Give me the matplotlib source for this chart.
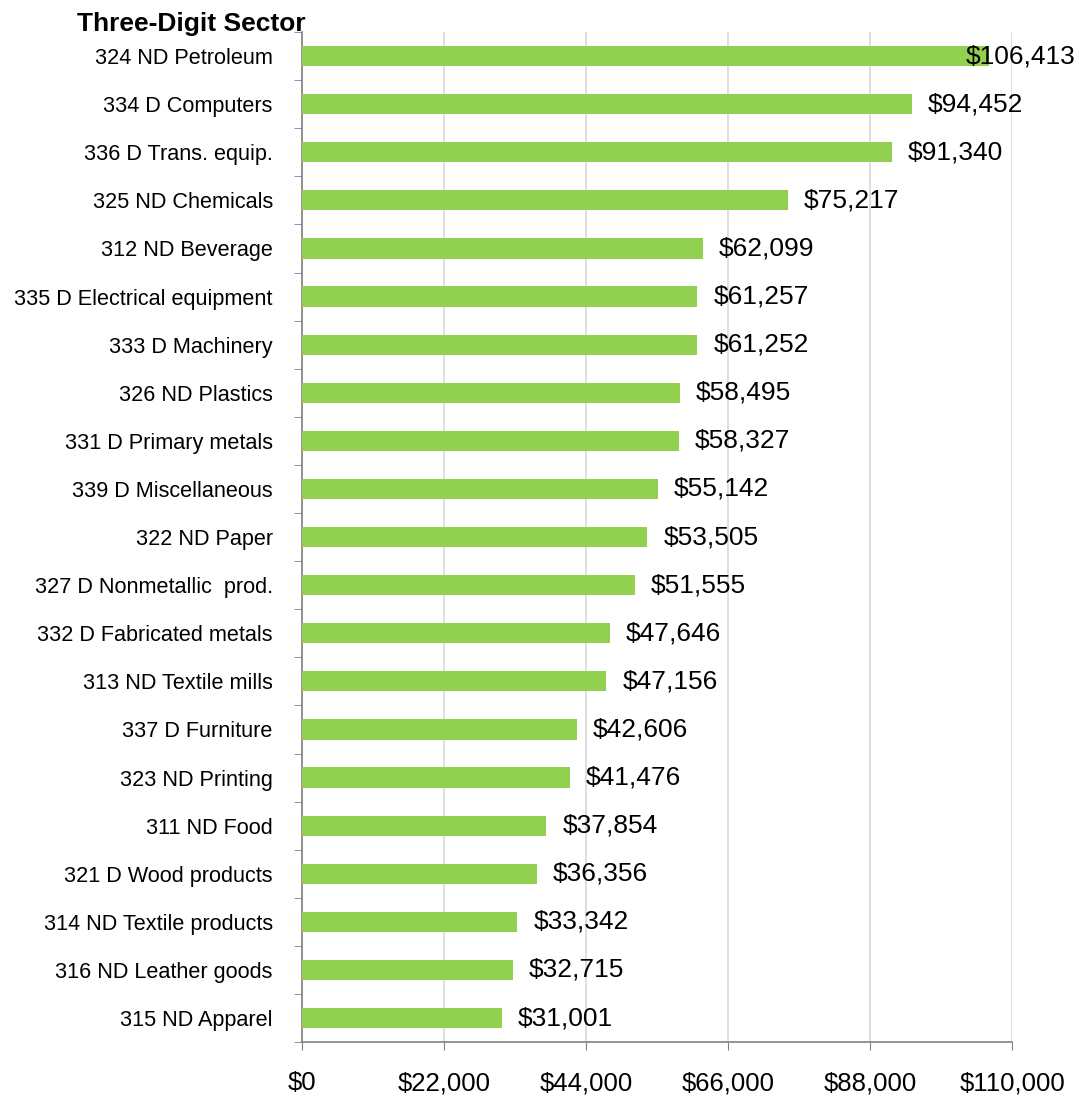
import matplotlib
matplotlib.use("Agg")
import matplotlib.pyplot as plt
from matplotlib.ticker import FixedLocator, FuncFormatter
import numpy as np

# data - top to bottom as in the chart
sectors = ["324 ND Petroleum", "334 D Computers", "336 D Trans. equip.",
           "325 ND Chemicals", "312 ND Beverage", "335 D Electrical equipment",
           "333 D Machinery", "326 ND Plastics", "331 D Primary metals",
           "339 D Miscellaneous", "322 ND Paper", "327 D Nonmetallic  prod.",
           "332 D Fabricated metals", "313 ND Textile mills", "337 D Furniture",
           "323 ND Printing", "311 ND Food", "321 D Wood products",
           "314 ND Textile products", "316 ND Leather goods", "315 ND Apparel"]
values = [106413, 94452, 91340, 75217, 62099, 61257, 61252, 58495, 58327,
          55142, 53505, 51555, 47646, 47156, 42606, 41476, 37854, 36356,
          33342, 32715, 31001]
xticks = [0, 22000, 44000, 66000, 88000, 110000]

plt.rcParams['font.family'] = ['Liberation Sans', 'DejaVu Sans']

fig = plt.figure(figsize=(10.88, 10.97), dpi=100)
ax = fig.add_axes([0.2776, 0.050, 0.6526, 0.9208])

n = len(sectors)
ypos = np.arange(n)
ax.barh(ypos, values, height=0.42, color="#92D050", zorder=3)
ax.set_ylim(n - 0.5, -0.5)
ax.set_xlim(0, 110000)

# value labels
for y, v in zip(ypos, values):
    off = 16 if v < 100000 else -23
    ax.annotate("${:,}".format(v), (v, y), xytext=(off * 0.72, 0),
                textcoords="offset points", va="center", ha="left",
                fontsize=19, color="black", zorder=4)

# axes styling
ax.xaxis.set_major_locator(FixedLocator(xticks))
ax.xaxis.set_major_formatter(FuncFormatter(lambda x, p: "${:,.0f}".format(x)))
ax.tick_params(axis="x", labelsize=18.5, length=6, color="#808080", pad=15)
ax.grid(axis="x", color="#D9D9D9", linewidth=1.2, zorder=0)

ax.set_yticks(ypos)
ax.set_yticklabels(sectors, fontsize=15.6)
ax.tick_params(axis="y", length=0, pad=21)
ax.set_yticks(np.arange(-0.5, n, 1.0), minor=True)
ax.tick_params(axis="y", which="minor", length=6, color="#808080")

for s in ["top", "right"]:
    ax.spines[s].set_visible(False)
for s in ["left", "bottom"]:
    ax.spines[s].set_color("#808080")
    ax.spines[s].set_linewidth(1.2)

fig.text(0.2776 + 0.003, 1 - 31 / 1097, "Three-Digit Sector", ha="right", va="baseline",
         fontsize=19, fontweight="bold")

fig.savefig("out.png", dpi=100)
